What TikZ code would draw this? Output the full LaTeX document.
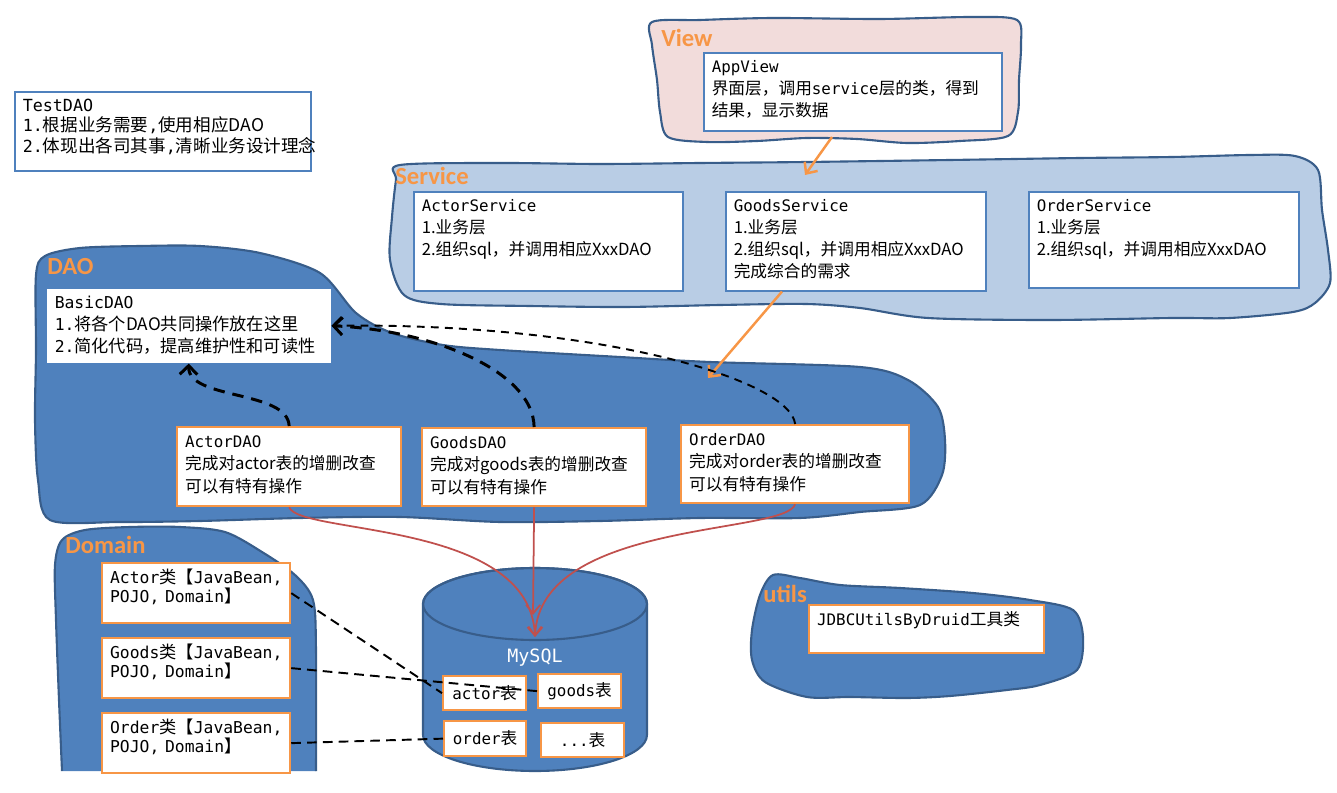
\documentclass[tikz,border=0pt]{standalone}
\usepackage{fontspec}
\setmainfont{Noto Sans CJK SC}
\newfontfamily\codefont[Scale=0.95]{DejaVu Sans Mono}
\newfontfamily\layerfont{Carlito}
\usepackage{xcolor}
\usepackage{tikz}
\usetikzlibrary{arrows.meta}
\definecolor{blobedge}{HTML}{385D8A}
\definecolor{boxblue}{HTML}{4F81BD}
\definecolor{daofill}{HTML}{4F81BD}
\definecolor{servicefill}{HTML}{B9CDE5}
\definecolor{viewfill}{HTML}{F2DCDB}
\definecolor{layerorange}{HTML}{F79646}
\definecolor{boxorange}{HTML}{F79646}
\definecolor{arroworange}{HTML}{F79646}
\definecolor{dbred}{HTML}{C0504D}
\newcommand{\code}[1]{{\codefont #1}}

\begin{document}
\begin{tikzpicture}[x=0.02cm, y=-0.02cm,
  blob/.style={draw=blobedge, line width=1.2pt},
  bluebox/.style={draw=boxblue, fill=white, line width=0.9pt, anchor=north west, align=left,
    inner xsep=0.16cm, inner ysep=0.14cm, text height=0.26cm, font=\fontsize{9.5}{12.5}\selectfont},
  orangebox/.style={bluebox, draw=boxorange, line width=1.3pt},
  daobox/.style={orangebox, font=\fontsize{9.5}{13}\selectfont},
  tablebox/.style={draw=boxorange, fill=white, line width=1.3pt, anchor=north west, inner sep=0pt,
    minimum height=0.68cm, font=\fontsize{9.5}{12}\selectfont},
  layer/.style={anchor=base west, inner sep=0pt, text=layerorange, font=\layerfont\bfseries\fontsize{14}{16}\selectfont},
  flowarrow/.style={draw=arroworange, line width=1.4pt, -{Straight Barb[length=5pt, width=9pt]}},
  dbarrow/.style={draw=dbred, line width=1pt, -{Straight Barb[length=5pt, width=8pt]}},
  uselink/.style={line width=1.7pt, dash pattern=on 6.5pt off 4.5pt, -{Straight Barb[length=5pt, width=10pt]}},
  maplink/.style={line width=1.1pt, dash pattern=on 5.5pt off 3.5pt}]
\useasboundingbox (0,0) rectangle (1337,793);

\draw[blob, fill=viewfill] plot[smooth cycle, tension=0.5] coordinates {(652,22) (700,20) (773,18) (880,19) (973,17) (1017,20) (1021,45) (1019,80) (1018,112) (1008,136) (960,141) (907,143) (857,139) (807,138) (757,141) (707,142) (668,137) (660,112) (657,80) (652,45)};
\draw[blob, fill=servicefill] plot[smooth cycle, tension=0.5] coordinates {(400,165) (500,163) (600,164) (700,163) (806,162) (950,160) (1080,158) (1172,157) (1250,155) (1295,156) (1318,170) (1322,210) (1328,250) (1330,283) (1315,303) (1293,312) (1230,318) (1172,318) (1050,320) (928,318) (860,308) (806,304) (720,305) (624,307) (530,306) (441,304) (404,295) (390,260) (392,217) (396,180)};
\draw[blob, fill=daofill] plot[smooth cycle, tension=0.5] coordinates {(36,275) (45,256) (80,248) (140,246) (200,246) (260,253) (320,273) (356,313) (392,333) (443,345) (500,350) (620,357) (710,362) (860,367) (908,380) (938,407) (945,440) (942,475) (920,505) (860,512) (800,518) (700,518) (600,521) (500,522) (400,517) (300,518) (200,521) (120,522) (50,520) (38,480) (35,420) (36,350)};
\draw[blob, fill=daofill] plot[smooth, tension=0.5] coordinates {(62,771) (59,700) (56,620) (55,565) (62,540) (85,530) (130,527) (180,527) (225,532) (262,552) (295,575) (313,600) (316,650) (316,771)};
\draw[blob, fill=daofill] plot[smooth cycle, tension=0.5] coordinates {(752,630) (760,595) (773,575) (800,578) (840,585) (900,588) (973,593) (1030,600) (1073,610) (1083,637) (1077,670) (1040,685) (1007,690) (950,696) (907,698) (850,697) (807,697) (765,682) (752,660)};
\draw[blob, fill=daofill] (423,604) -- (423,735) arc[start angle=180, end angle=360, x radius=2.24cm, y radius=0.72cm] -- (647,604) arc[start angle=0, end angle=180, x radius=2.24cm, y radius=0.72cm] -- cycle;
\draw[blob] (535,604) ellipse[x radius=2.24cm, y radius=0.72cm];

\node[layer] (viewlabel) at (661,47) {View};
\node[layer] (servicelabel) at (395,185) {Service};
\node[layer] (daolabel) at (47,275) {DAO};
\node[layer] (domainlabel) at (65,553) {Domain};
\node[layer] (utilslabel) at (763,602) {utils};

\node[bluebox, text width=5.60cm, text depth=1.04cm, font=\fontsize{10}{11.5}\selectfont] (testdao) at (14,91)
  {\code{TestDAO}\\\code{1.}根据业务需要\code{,}使用相应DAO\\\code{2.}体现出各司其事\code{,}清晰业务设计理念};
\node[bluebox, text width=5.64cm, text depth=1.02cm] (appview) at (703,52)
  {\code{AppView}\\界面层，调用\code{service}层的类，得到\\结果，显示数据};
\node[bluebox, text width=5.06cm, text depth=1.44cm] (actorservice) at (413,191)
  {\code{ActorService}\\1.业务层\\2.组织sql，并调用相应XxxDAO};
\node[bluebox, text width=4.88cm, text depth=1.44cm] (goodsservice) at (725,191)
  {\code{GoodsService}\\1.业务层\\2.组织sql，并调用相应XxxDAO\\完成综合的需求};
\node[bluebox, text width=5.08cm, text depth=1.38cm] (orderservice) at (1028,191)
  {\code{OrderService}\\1.业务层\\2.组织sql，并调用相应XxxDAO};
\node[bluebox, draw=none, text width=5.36cm, text depth=0.94cm, font=\fontsize{9.8}{12.5}\selectfont] (basicdao) at (46,288)
  {\code{BasicDAO}\\\code{1.}将各个DAO共同操作放在这里\\\code{2.}简化代码，提高维护性和可读性};
\node[daobox, text width=4.16cm, text depth=1.04cm] (actordao) at (176,426)
  {\code{ActorDAO}\\完成对actor表的增删改查\\可以有特有操作};
\node[daobox, text width=4.16cm, text depth=1.02cm] (goodsdao) at (421,427)
  {\code{GoodsDAO}\\完成对goods表的增删改查\\可以有特有操作};
\node[daobox, text width=4.24cm, text depth=1.02cm] (orderdao) at (680,424)
  {\code{OrderDAO}\\完成对order表的增删改查\\可以有特有操作};
\node[orangebox, text width=3.44cm, text depth=0.66cm, font=\fontsize{9.8}{11.2}\selectfont] (domactor) at (101,562)
  {\code{Actor}类【\code{JavaBean,}\\\code{POJO, Domain}】};
\node[orangebox, text width=3.44cm, text depth=0.66cm, font=\fontsize{9.8}{11.2}\selectfont] (domgoods) at (101,637)
  {\code{Goods}类【\code{JavaBean,}\\\code{POJO, Domain}】};
\node[orangebox, text width=3.44cm, text depth=0.66cm, font=\fontsize{9.8}{11.2}\selectfont] (domorder) at (101,712)
  {\code{Order}类【\code{JavaBean,}\\\code{POJO, Domain}】};
\node[orangebox, text width=4.38cm, text depth=0.42cm] (jdbcutils) at (808,604)
  {\code{JDBCUtilsByDruid}工具类};

\node[text=white, font=\codefont\fontsize{11}{13}\selectfont] (mysql) at (535,658) {MySQL};
\node[tablebox, minimum width=1.66cm] (tblactor) at (442,675) {\code{actor}表};
\node[tablebox, minimum width=1.66cm] (tblgoods) at (537,673) {\code{goods}表};
\node[tablebox, minimum width=1.64cm, minimum height=0.70cm] (tblorder) at (443,720) {\code{order}表};
\node[tablebox, minimum width=1.66cm] (tblmore) at (540,722) {\code{...}表};

\coordinate (viewout) at (832,137);
\coordinate (servicein) at (805,175);
\coordinate (daoin) at (708,378);
\coordinate (dbtop) at (535,637);
\coordinate (dbmid) at (533,615);

\draw[flowarrow] (viewout) -- (servicein);
\draw[flowarrow] ([xshift=1.14cm]goodsservice.south west) -- (daoin);

\draw[uselink] (actordao.north) .. controls (288,390) and (188,400) .. (basicdao.south);
\draw[uselink] (goodsdao.north) .. controls (533,370) and (430,330) .. (basicdao.east);
\draw[uselink, line width=1.1pt, dash pattern=on 4.5pt off 3.5pt] (orderdao.north) .. controls (790,380) and (600,322) .. (basicdao.east);

\draw[dbarrow] (actordao.south) .. controls (300,535) and (530,520) .. (dbtop);
\draw[dbarrow] (goodsdao.south) -- (dbmid);
\draw[dbarrow] (orderdao.south) .. controls (785,535) and (540,520) .. (dbtop);

\draw[maplink] (domactor.east) -- (tblactor.west);
\draw[maplink] (domgoods.east) -- (tblgoods.west);
\draw[maplink] (domorder.east) -- (tblorder.west);
\end{tikzpicture}
\end{document}
